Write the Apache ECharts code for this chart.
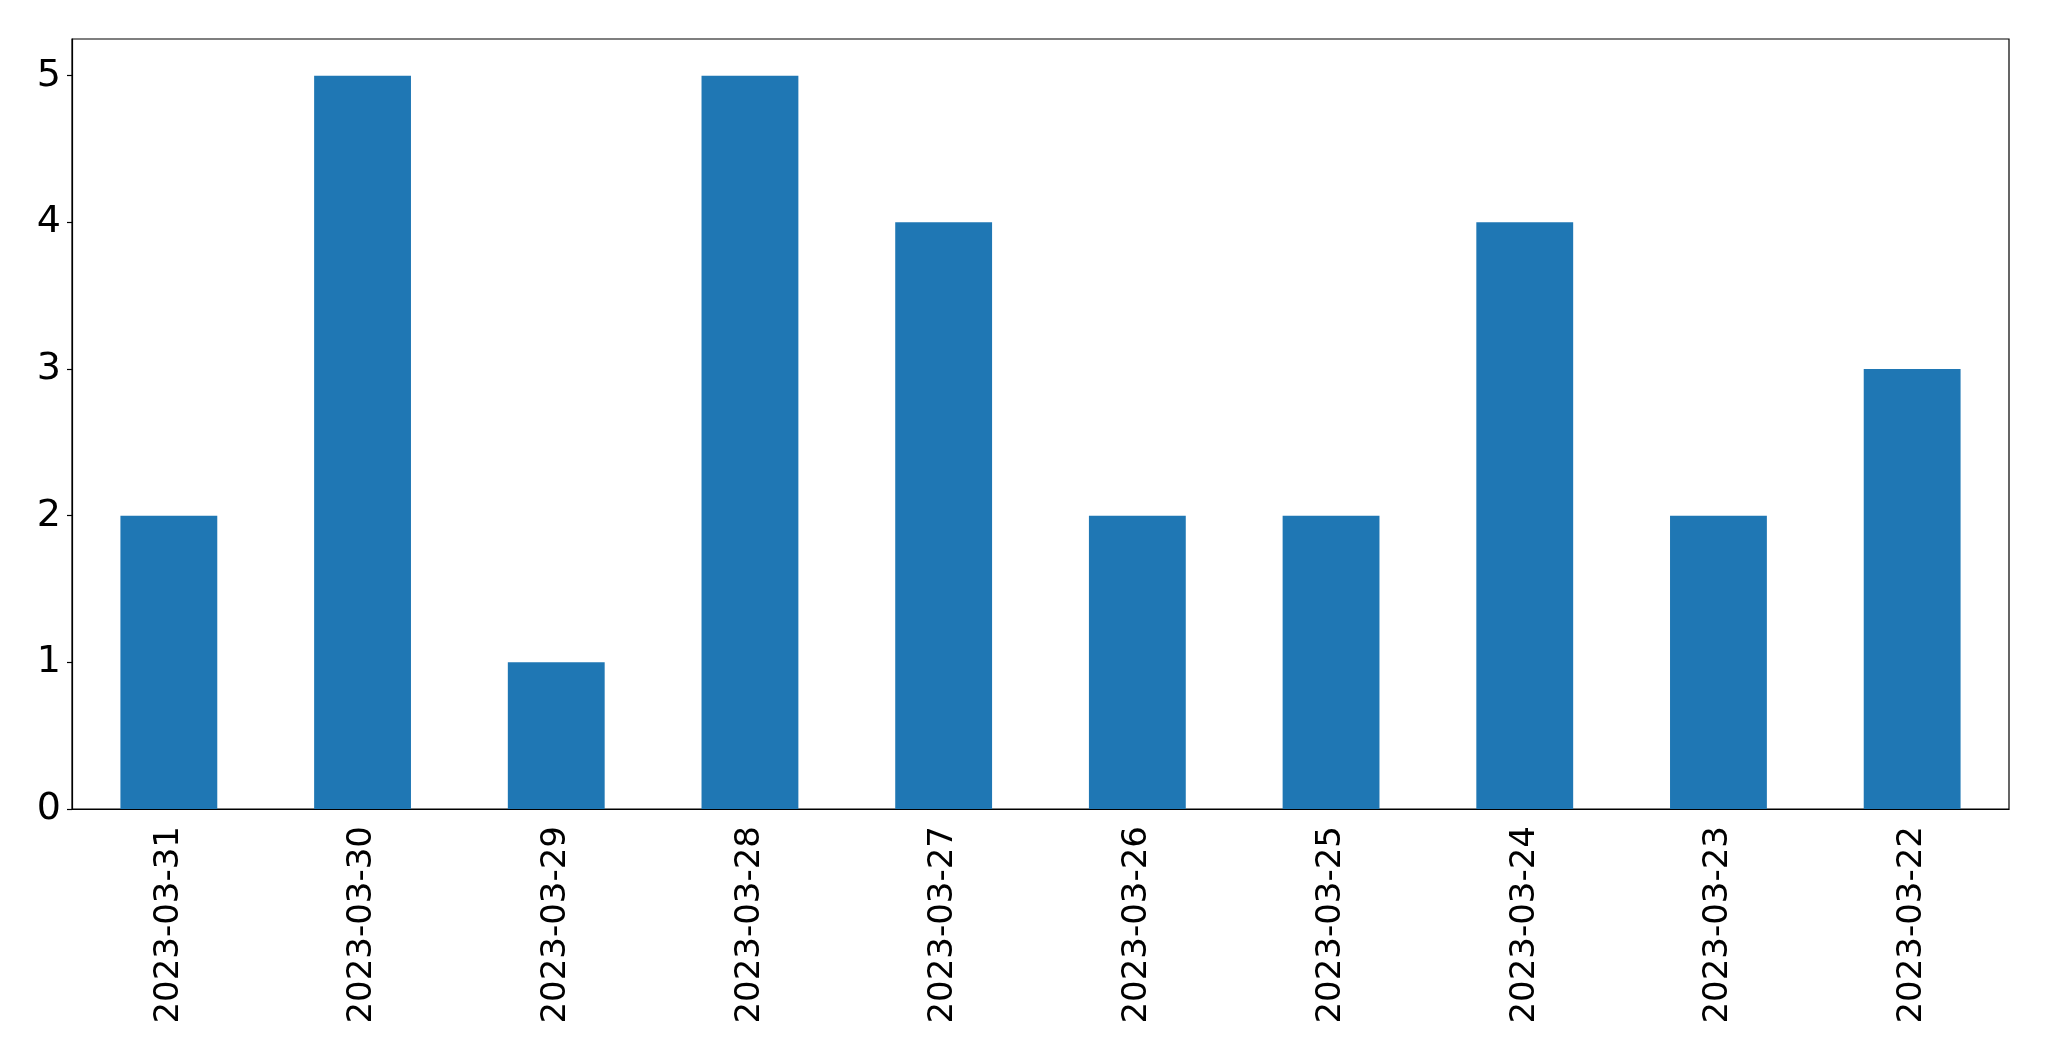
<!DOCTYPE html>
<html>
<head>
<meta charset="utf-8">
<script src="https://cdn.jsdelivr.net/npm/echarts@6/dist/echarts.min.js"></script>
<style>
  html, body { margin: 0; padding: 0; background: #fff; }
  #chart { width: 2049px; height: 1061px; }
</style>
</head>
<body>
<div id="chart"></div>
<script>
const dates = [
  "2023-03-31", "2023-03-30", "2023-03-29", "2023-03-28", "2023-03-27",
  "2023-03-26", "2023-03-25", "2023-03-24", "2023-03-23", "2023-03-22",
];
const counts = [2, 5, 1, 5, 4, 2, 2, 4, 2, 3];
const yTicks = [0, 1, 2, 3, 4, 5];

const chart = echarts.init(document.getElementById("chart"));
const font = "DejaVu Sans";

chart.setOption({
  animation: false,
  backgroundColor: "#fff",
  grid: {
    left: 72,
    top: 39,
    width: 1937,
    height: 770,
    show: true,
    borderColor: "#000",
    borderWidth: 1.2,
    containLabel: false,
  },
  xAxis: {
    type: "category",
    data: dates,
    boundaryGap: true,
    axisLine: { lineStyle: { color: "#000", width: 1.2 } },
    axisTick: { alignWithLabel: true, length: 5, lineStyle: { color: "#000", width: 1.2 } },
    axisLabel: {
      rotate: 90,
      margin: 17,
      color: "#000",
      fontFamily: font,
      fontSize: 34,
      interval: 0,
    },
  },
  yAxis: {
    type: "value",
    min: 0,
    max: 5.25,
    interval: 1,
    splitLine: { show: false },
    axisLine: { show: true, lineStyle: { color: "#000", width: 1.2 } },
    axisTick: { show: true, length: 5, customValues: yTicks, lineStyle: { color: "#000", width: 1.2 } },
    axisLabel: {
      customValues: yTicks,
      margin: 11,
      color: "#000",
      fontFamily: font,
      fontSize: 38,
    },
  },
  series: [
    {
      type: "bar",
      data: counts,
      barWidth: "50%",
      itemStyle: { color: "#1f77b4" },
    },
  ],
});
</script>
</body>
</html>
